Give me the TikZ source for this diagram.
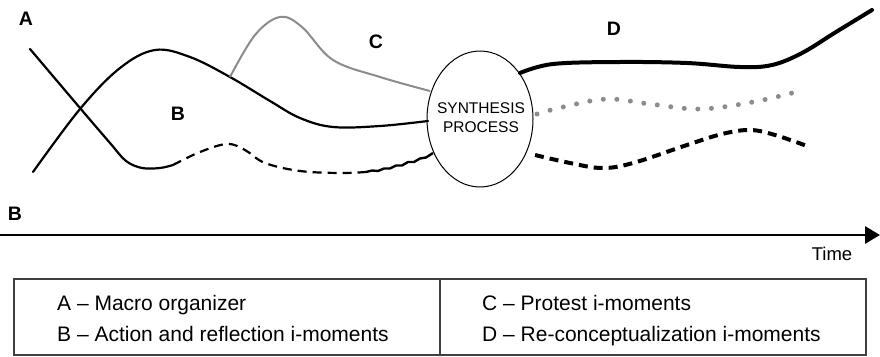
\documentclass[tikz,border=0pt]{standalone}
\usepackage{fontspec}
\setmainfont{Liberation Sans}
\usetikzlibrary{shapes.geometric,arrows.meta}
\tikzset{
  curve/.style={line width=2.2pt, line cap=round, line join=round},
  graycurve/.style={line width=2pt, color=black!45, line join=round},
  lbl/.style={font=\fontsize{19.5}{21}\selectfont\bfseries, inner sep=0pt},
  legend/.style={font=\fontsize{21}{24}\selectfont, inner sep=0pt, anchor=base west},
  synth/.style={draw, ellipse, line width=1pt, minimum width=106pt, minimum height=136pt, inner sep=0pt},
}
\begin{document}
\begin{tikzpicture}[x=1pt,y=-1pt]
\useasboundingbox (0,0) rectangle (880,356);
% synthesis ellipse
\node[synth] (S) at (480,119) {};
\node[align=center, inner sep=0pt, font=\fontsize{15.5}{19}\selectfont] (St) at (481,118) {SYNTHESIS\\PROCESS};
% labels
\node[lbl] (lA) at (26,18.5) {A};
\node[lbl] (lB2) at (15,214) {B};
\node[lbl] (lB) at (178,114) {B};
\node[lbl] (lC) at (376,42) {C};
\node[lbl] (lD) at (614,29) {D};
% line A (macro organizer) and its dashed continuation
\draw[curve] plot[smooth, tension=0.55] coordinates {(30,49) (80,108) (110,143) (126,161) (142,168) (160,168) (173,165)};
\draw[curve, dash pattern=on 9pt off 6pt, line cap=butt] plot[smooth, tension=0.6] coordinates {(173,165) (200,152) (227,144) (245,150) (265,163) (300,171) (340,173) (366,172)};
\draw[line width=2.4pt, line join=round] (366,172) -- (372,170.5) -- (378,171) -- (384,168.5) -- (390,168.5) -- (396,165.5) -- (402,165.5) -- (408,162) -- (414,162) -- (420,158.5) -- (426,157.5) -- (433,153);
% line B
\draw[curve] plot[smooth, tension=0.6] coordinates {(33,172) (80,109) (120,68) (155,50) (190,57) (230,77) (270,101) (300,118) (333,127) (380,126) (428,121)};
% line C (gray)
\draw[graycurve] plot[smooth, tension=0.6] coordinates {(230,77) (255,35) (280,17) (302,27) (333,60) (380,77) (430,91)};
% right side
\draw[line width=4pt, line cap=round] plot[smooth, tension=0.6] coordinates {(520,73) (553,64) (620,62) (687,63) (740,67) (772,65) (802,53) (836,32) (872,10)};
\draw[line width=5pt, color=black!45, line cap=round, dash pattern=on 0pt off 13.6pt] plot[smooth, tension=0.6] coordinates {(537,114) (563,107) (607,99) (650,104) (700,109) (753,102) (800,91)};
\draw[line width=4pt, dash pattern=on 9pt off 6pt] plot[smooth, tension=0.6] coordinates {(535,155) (570,163) (602,168) (633,163) (687,145) (722,134) (750,130) (775,135) (807,146)};
% time axis
\coordinate (t0) at (0,235);
\coordinate (t1) at (880,235);
\draw[line width=2.8pt, -{Triangle[length=15pt,width=17pt]}] (t0) -- (t1);
\node[font=\fontsize{18.5}{20}\selectfont, inner sep=0pt] (time) at (832,254) {Time};
% legend
\draw[line width=1.2pt, color=black!75] (14,279) rectangle (866,355);
\draw[line width=1.2pt, color=black!75] (440,279) -- (440,355);
\node[legend] (la) at (57,310) {A -- Macro organizer};
\node[legend] (lb) at (57,341) {B -- Action and reflection i-moments};
\node[legend] (lc) at (482,310) {C -- Protest i-moments};
\node[legend] (ld) at (482,341) {D -- Re-conceptualization i-moments};
\end{tikzpicture}
\end{document}
